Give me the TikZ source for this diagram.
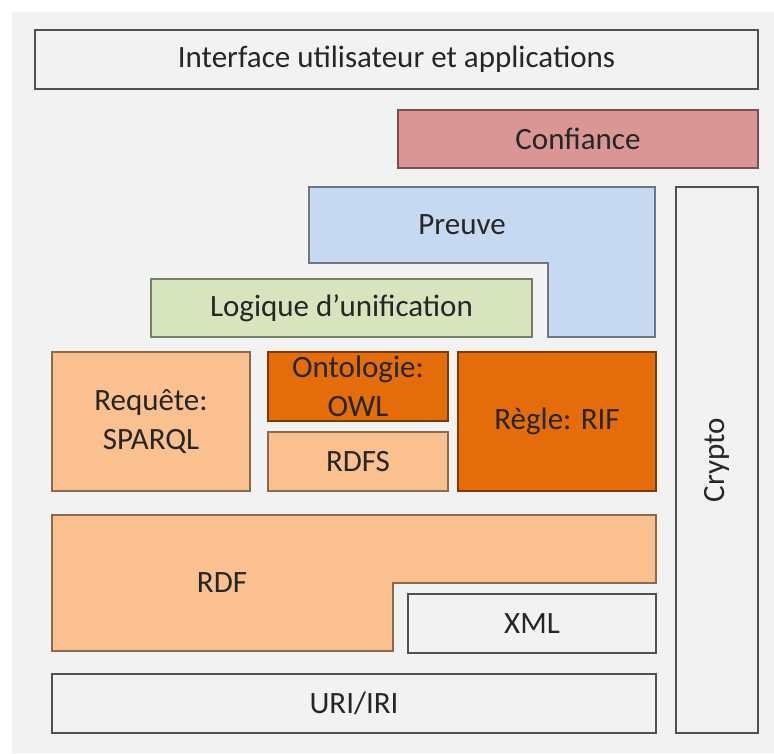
\documentclass[tikz,border=0pt]{standalone}
\usepackage{fontspec}
\setmainfont{Carlito}
\definecolor{backgr}{RGB}{242,242,242}
\definecolor{edge}{RGB}{80,80,80}
\definecolor{trust}{RGB}{217,150,148}
\definecolor{proof}{RGB}{198,217,241}
\definecolor{logic}{RGB}{215,228,189}
\definecolor{lightorange}{RGB}{250,192,144}
\definecolor{darkorange}{RGB}{228,108,10}
\tikzset{
  layer/.style={draw=edge, line width=1.5pt, inner sep=0pt, align=center, text=black!85, font=\fontsize{31}{39}\selectfont},
  colorlayer/.style={layer, fill=#1, draw=#1!55!black},
  boxsize/.style 2 args={minimum width=#1pt, minimum height=#2pt}
}

\begin{document}
\begin{tikzpicture}[x=1pt, y=-1pt]
\useasboundingbox (0,0) rectangle (774,753);
\fill[backgr] (12,12) rectangle (774,753);

% top layers
\node[layer, boxsize={723}{59}] (ui) at (396.5,59.5) {Interface utilisateur et applications};
\node[colorlayer=trust, boxsize={360}{58}] (trust) at (578,139) {Confiance};

% proof (L-shape)
\draw[colorlayer=proof] (309,187) -- (655,187) -- (655,337) -- (548,337) -- (548,263) -- (309,263) -- cycle;
\node[layer, draw=none] (proof) at (462,225) {Preuve};

\node[colorlayer=logic, boxsize={381}{58}] (logic) at (341.5,308) {Logique d'unification};

% crypto column
\node[layer, rotate=90, boxsize={546}{82}] (crypto) at (717,460) {Crypto};

% query, ontology, rules
\node[colorlayer=lightorange, boxsize={198}{139}] (query) at (151,421.5) {Requête:\\SPARQL};
\node[colorlayer=darkorange, boxsize={180}{69}] (owl) at (358,386.5) {Ontologie:\\OWL};
\node[colorlayer=lightorange, boxsize={180}{59}] (rdfs) at (358,461.5) {RDFS};
\node[colorlayer=darkorange, boxsize={198}{139}] (rif) at (557,421.5) {Règle: RIF};

% rdf (L-shape)
\draw[colorlayer=lightorange] (52,515) -- (656,515) -- (656,583) -- (393,583) -- (393,651) -- (52,651) -- cycle;
\node[layer, draw=none] (rdf) at (222,583) {RDF};

% bottom layers
\node[layer, boxsize={248}{59}] (xml) at (532,623.5) {XML};
\node[layer, boxsize={604}{59}] (uri) at (354,703.5) {URI/IRI};
\end{tikzpicture}
\end{document}
